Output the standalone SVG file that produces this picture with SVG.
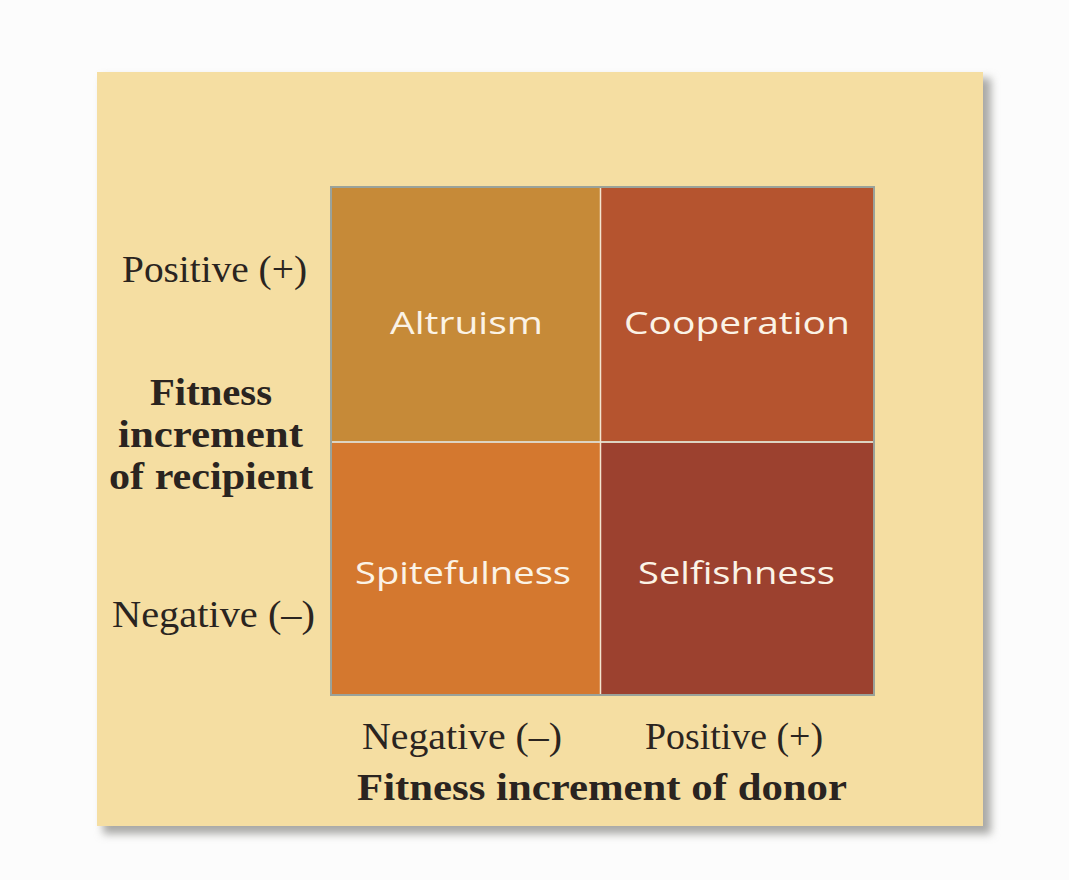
<svg xmlns="http://www.w3.org/2000/svg" width="1069" height="880" viewBox="0 0 1069 880">
<defs>
<filter id="sh" x="-5%" y="-5%" width="115%" height="115%"><feGaussianBlur stdDeviation="4"/></filter>
<style>
.ax{font-family:"Liberation Serif",serif;font-size:37px;fill:#2a2420}
.axb{font-family:"Liberation Serif",serif;font-size:37px;font-weight:bold;fill:#2a2420}
.cell{font-family:"Open Sans","Lato",sans-serif;font-size:31px;fill:#fbf3e6}
</style>
</defs>
<rect width="1069" height="880" fill="#fcfcfc"/>
<rect x="103" y="78" width="888" height="756" fill="#a9a9a6" filter="url(#sh)"/>
<rect x="97" y="72" width="886" height="754" fill="#f5dea2"/>
<g id="grid">
<rect x="330" y="186" width="545" height="510" fill="#9aa29a"/>
<g id="altruism"><rect x="332" y="188" width="268" height="253" fill="#c68a38"/><text class="cell" x="390" y="334" textLength="153" lengthAdjust="spacingAndGlyphs">Altruism</text></g>
<g id="cooperation"><rect x="601" y="188" width="272" height="253" fill="#b5542f"/><text class="cell" x="624" y="334" textLength="226" lengthAdjust="spacingAndGlyphs">Cooperation</text></g>
<g id="spitefulness"><rect x="332" y="443" width="268" height="251" fill="#d4782f"/><text class="cell" x="355" y="584" textLength="216" lengthAdjust="spacingAndGlyphs">Spitefulness</text></g>
<g id="selfishness"><rect x="601" y="443" width="272" height="251" fill="#9c412f"/><text class="cell" x="638" y="584" textLength="197" lengthAdjust="spacingAndGlyphs">Selfishness</text></g>
<line x1="600.5" y1="188" x2="600.5" y2="694" stroke="#f3e4cf" stroke-width="1.5"/>
<line x1="332" y1="442" x2="873" y2="442" stroke="#f3e4cf" stroke-width="1.5"/>
</g>
<g id="yaxis">
<text class="ax" x="122" y="282" textLength="185" lengthAdjust="spacingAndGlyphs">Positive (+)</text>
<text class="axb" x="150" y="405" textLength="122" lengthAdjust="spacingAndGlyphs">Fitness</text>
<text class="axb" x="118" y="447" textLength="185" lengthAdjust="spacingAndGlyphs">increment</text>
<text class="axb" x="109" y="489" textLength="204" lengthAdjust="spacingAndGlyphs">of recipient</text>
<text class="ax" x="112" y="627" textLength="203" lengthAdjust="spacingAndGlyphs">Negative (–)</text>
</g>
<g id="xaxis">
<text class="ax" x="362" y="749" textLength="200" lengthAdjust="spacingAndGlyphs">Negative (–)</text>
<text class="ax" x="645" y="749" textLength="178" lengthAdjust="spacingAndGlyphs">Positive (+)</text>
<text class="axb" x="357" y="800" textLength="490" lengthAdjust="spacingAndGlyphs">Fitness increment of donor</text>
</g>
</svg>
